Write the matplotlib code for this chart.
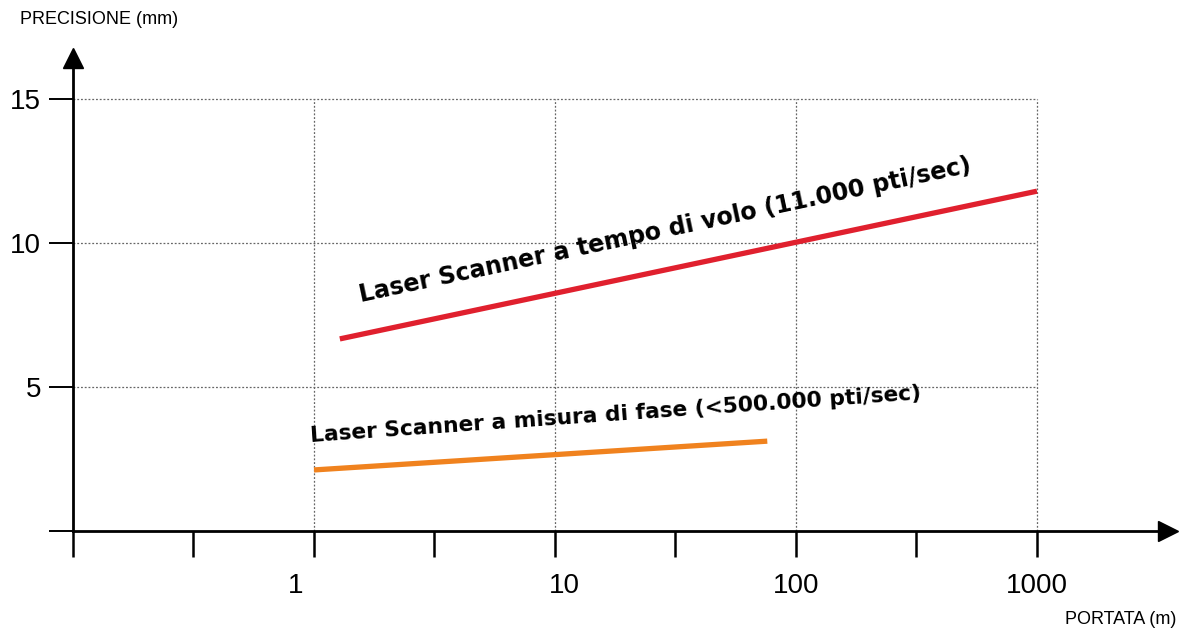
import numpy as np
import matplotlib
matplotlib.use("Agg")
import matplotlib.pyplot as plt
from matplotlib.transforms import ScaledTranslation

# ---- data ----
tof_range = [1.28, 1000]          # Laser Scanner a tempo di volo
tof_prec = [6.67, 11.8]
phase_range = [1.0, 76]           # Laser Scanner a misura di fase
phase_prec = [2.12, 3.12]

x_ticks = [0.1, 0.316, 1, 3.16, 10, 31.6, 100, 316, 1000]
x_labels = ["", "", "1", "", "10", "", "100", "", "1000"]
x_grid = [1, 10, 100, 1000]
y_ticks = [0, 5, 10, 15]
y_labels = ["", "5", "10", "15"]
y_grid = [5, 10, 15]

label_tof = "Laser Scanner a tempo di volo (11.000 pti/sec)"
label_phase = "Laser Scanner a misura di fase (<500.000 pti/sec)"
ylabel = "PRECISIONE (mm)"
xlabel = "PORTATA (m)"

plt.rcParams['font.family'] = ['Liberation Sans', 'DejaVu Sans']

W, H = 1184, 630
fig = plt.figure(figsize=(W / 100, H / 100), dpi=100)
fig.patch.set_facecolor('white')

L, R, B, T = 73, 1168, 531, 58
ax = fig.add_axes([L / W, (H - B) / H, (R - L) / W, (B - T) / H])
ax.set_xscale('log')
decade = 241.0
xmax = 10 ** (-1 + (R - L) / decade)
ymax = (B - T) / 28.8
ax.set_xlim(0.1, xmax)
ax.set_ylim(0, ymax)

for s in ['top', 'right']:
    ax.spines[s].set_visible(False)
for s in ['left', 'bottom']:
    ax.spines[s].set_linewidth(2.0)
    ax.spines[s].set_color('black')

ax.set_xticks(x_ticks)
ax.set_xticklabels(x_labels)
ax.xaxis.set_minor_locator(matplotlib.ticker.NullLocator())
ax.set_yticks(y_ticks)
ax.set_yticklabels(y_labels)
ax.tick_params(axis='x', direction='out', length=19, width=1.8, pad=11, labelsize=20)
ax.tick_params(axis='y', direction='out', length=17, width=1.4, pad=6, labelsize=20)

# shift the "1" / "10" labels slightly as in the reference
for lab in ax.get_xticklabels():
    if lab.get_text() == "1":
        lab.set_transform(lab.get_transform() + ScaledTranslation(-0.18, 0, fig.dpi_scale_trans))
    if lab.get_text() == "10":
        lab.set_transform(lab.get_transform() + ScaledTranslation(0.09, 0, fig.dpi_scale_trans))

# grid lines (dotted)
ax.vlines(x_grid, 0, 15, colors='#666666', linestyles=(0, (1.5, 1.5)), linewidth=0.9, zorder=1)
ax.hlines(y_grid, 0.1, 1000, colors='#666666', linestyles=(0, (1.5, 1.5)), linewidth=0.9, zorder=1)

# arrow heads
ax.plot(1, 0, marker='>', color='black', markersize=14, transform=ax.transAxes, clip_on=False)
ax.plot(0, 1, marker='^', color='black', markersize=14, transform=ax.transAxes, clip_on=False)

# series
ax.plot(tof_range, tof_prec, color='#E0202E', linewidth=3.8, solid_capstyle='butt', zorder=3)
ax.plot(phase_range, phase_prec, color='#F0821E', linewidth=3.8, solid_capstyle='butt', zorder=3)

# in-plot labels
ax.text(28.6, 10.45, label_tof, rotation=12, rotation_mode='anchor', ha='center', va='center',
        fontsize=17.1, fontweight='bold', family='DejaVu Sans', color='black', zorder=4)
ax.text(17.9, 4.03, label_phase, rotation=4, rotation_mode='anchor', ha='center', va='center',
        fontsize=15.7, fontweight='bold', family='DejaVu Sans', color='black', zorder=4)

# axis titles
fig.text(20 / W, 1 - 20 / H, ylabel, ha='left', va='center', fontsize=13)
fig.text(1176 / W, 1 - 620 / H, xlabel, ha='right', va='center', fontsize=13)

fig.savefig('out.png', dpi=100, facecolor='white')
